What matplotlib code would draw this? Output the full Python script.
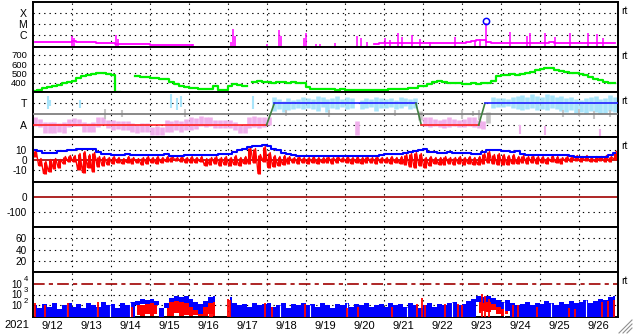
import numpy as np
import matplotlib
matplotlib.use('Agg')
import matplotlib.pyplot as plt
from matplotlib.lines import Line2D
from matplotlib.ticker import NullLocator

plt.rcParams['font.family'] = ['Liberation Sans', 'DejaVu Sans']
plt.rcParams['font.size'] = 8

nan = np.nan

day_labels = ['9/12', '9/13', '9/14', '9/15', '9/16', '9/17', '9/18', '9/19',
              '9/20', '9/21', '9/22', '9/23', '9/24', '9/25', '9/26']
year_label = '2021'

# all series: 3 hour bins, 8 per day, from 9/12 00UT to 9/27 00UT

# x-ray flux, log10 W/m2 (nan = below plot)
xray_base = [
    -6.6, -6.62, -6.6, -6.63, -6.6, -6.62, -6.6, -6.6,
    -6.58, -6.65, -6.66, -6.68, -6.66, -6.7, -6.72, -6.74,
    -6.78, -6.8, -6.82, -6.82, -6.84, -6.85, -6.86, -6.86,
    -6.9, -6.92, -6.93, -6.94, -6.94, -6.95, -6.95, -6.96,
    -6.95, nan, nan, nan, nan, nan, nan, nan,
    nan, nan, nan, nan, nan, nan, nan, nan,
    nan, nan, nan, nan, nan, nan, nan, nan,
    nan, nan, nan, nan, nan, nan, nan, nan,
    nan, nan, nan, nan, nan, nan, -6.8, -6.77,
    -6.78, -6.74, -6.77, -6.72, -6.76, -6.74, -6.72, -6.76,
    -6.74, -6.77, -6.72, -6.75, -6.78, -6.74, -6.76, -6.72,
    -6.72, -6.67, -6.52, -6.47, -6.5, -6.62, -6.72, -6.74,
    -6.77, -6.72, -6.76, -6.74, -6.77, -6.72, -6.74, -6.76,
    -6.72, -6.74, -6.62, -6.76, -6.74, -6.77, -6.72, -6.76,
    -6.77, -6.74, -6.76, -6.72, -6.78, -6.76, -6.74, -6.76]
xray_spike_day = [1.01, 1.06, 2.14, 2.19, 4.09, 5.1, 5.14, 5.19, 6.01, 6.32, 6.37,
                  6.96, 7.01, 7.27, 7.37, 7.76, 8.32, 8.42, 8.58, 9.04, 9.17, 9.37,
                  9.47, 9.73, 9.94, 10.19, 10.83, 11.35, 11.47, 11.63, 12.24, 12.68,
                  12.76, 13.14, 13.4, 13.78, 14.24, 14.47, 14.63]
xray_spike_val = [-6.09, -6.3, -6.0, -6.4, -6.85, -6.6, -5.45, -6.1, -6.82, -5.55, -6.1,
                  -6.27, -5.79, -6.82, -6.82, -6.7, -6.09, -6.27, -6.61, -6.27, -6.45, -5.79,
                  -6.15, -6.0, -6.39, -6.61, -6.21, -6.45, -6.36, -4.88, -5.7, -6.09,
                  -5.85, -5.85, -6.18, -5.79, -5.85, -5.94, -6.3]
flare_day = 11.63
flare_val = -4.75

# solar wind speed, km/s
speed = [
    310, 325, 340, 355, 365, 380, 395, 410,
    420, 450, 470, 480, 495, 505, 500, 490,
    485, 305, nan, nan, nan, 470, 462, 458,
    455, 450, 445, 435, 410, 385, 370, 350,
    345, 340, 335, 330, 328, 362, 325, 322,
    370, 385, 375, 365, nan, 405, 415, 410,
    405, 400, 410, 405, 400, 408, 402, 398,
    350, 335, 330, 328, 332, 328, 325, 330,
    326, 324, 322, 320, 322, 318, 320, 318,
    320, 328, 332, 330, 335, 338, 340, 360,
    370, 385, 410, 418, 405, 398, 395, 392,
    390, 388, 392, 390, 395, 398, 420, 470,
    480, 485, 492, 488, 495, 505, 520, 535,
    545, 560, 555, 540, 530, 520, 510, 500,
    490, 480, 465, 445, 430, 405, 400, 400]

# IMF angle spread (T = +1, A = -1)
phi_lo = [
    -1.1, -1.2, -1.7, -1.7, -1.75, -1.6, -1.7, -1.2,
    -1.05, -1.1, -1.65, -1.6, -1.65, -1.2, -0.9, -1.3,
    -1.5, -1.4, -1.5, -1.45, -1.65, -1.7, -1.6, -1.65,
    -1.95, -1.9, -1.95, -1.65, -1.6, -1.5, -1.6, -1.5,
    -1.5, -1.4, -1.1, -1.2, -1.1, -1.3, -1.3, -1.25,
    -1.3, -1.5, -1.75, -1.7, -1.3, -1.2, -1.3, -1.2,
    -1.0, 0.3, 0.5, 0.2, 0.4, 0.5, 0.6, 0.5,
    0.6, 0.5, 0.3, 0.7, 0.2, 0.6, 0.5, 0.7,
    0.5, 0.6, -1.9, 0.5, 0.6, 0.7, 0.3, 0.6,
    0.6, 0.7, 0.5, 0.6, 0.8, 0.5, 0.6, -0.5,
    -1.1, -1.2, -1.1, -1.2, -1.3, -1.2, -1.1, -1.2,
    -1.2, -1.1, -1.2, -1.3, -1.4, -0.8, 0.6, 0.7,
    0.7, 0.8, 0.6, 0.5, 0.4, 0.5, 0.6, 0.4,
    0.5, 0.4, 0.6, 0.5, 0.3, 0.2, 0.4, 0.1,
    0.2, 0.1, 0.3, 0.2, 0.0, 0.1, 0.3, 0.2]
phi_hi = [
    -0.3, -0.4, -0.7, -0.75, -0.7, -0.8, -0.7, -0.4,
    -0.35, -0.4, -0.75, -0.8, -0.75, -0.3, -0.3, -0.5,
    -0.55, -0.6, -0.6, -0.6, -0.85, -0.9, -0.85, -0.8,
    -1.2, -1.1, -1.15, -0.55, -0.6, -0.5, -0.6, -0.4,
    -0.3, -0.35, -0.2, -0.3, -0.25, -0.5, -0.55, -0.55,
    -0.5, -0.7, -1.0, -0.9, -0.3, -0.2, -0.3, -0.3,
    -0.3, 1.6, 1.4, 1.2, 1.5, 1.3, 1.4, 1.6,
    1.5, 1.4, 1.7, 1.6, 1.4, 1.5, 1.7, 1.4,
    1.6, 1.5, -0.6, 1.3, 1.5, 1.4, 1.6, 1.5,
    1.4, 1.5, 1.3, 1.6, 1.5, 1.4, 1.5, 0.3,
    -0.3, -0.3, -0.4, -0.5, -0.4, -0.3, -0.4, -0.5,
    -0.4, -0.3, -0.3, -0.5, -0.6, 0.2, 1.6, 1.5,
    1.5, 1.4, 1.6, 1.7, 1.8, 1.6, 1.9, 1.7,
    1.6, 1.9, 1.8, 1.6, 1.7, 1.5, 1.6, 1.4,
    1.3, 1.5, 1.6, 1.7, 1.4, 1.5, 1.8, 1.6]
# scattered points outside the main band: day, low, high
phi_extra_day = [0.40, 0.45, 1.22, 1.85, 2.3, 3.55, 3.7, 3.82, 3.9, 5.65, 6.5, 7.6,
                 9.3, 11.0, 11.3, 11.45, 12.5, 13.15, 13.6, 14.0, 14.4, 14.55, 14.8]
phi_extra_lo = [0.5, 0.8, 0.6, -0.4, -0.3, 0.6, 0.4, 0.7, -0.3, 0.5, -0.2, -0.3,
                -0.2, -0.4, -0.2, -0.5, -1.8, -1.9, -0.3, -0.2, -0.4, -2.0, -0.3]
phi_extra_hi = [1.7, 1.3, 1.3, 0.5, 0.4, 1.9, 1.5, 1.7, 0.5, 1.7, 0.4, 0.4,
                0.4, 0.35, 0.3, 0.4, -1.0, -1.1, 0.4, 0.45, 0.3, -1.4, 0.35]
sector_day = [0, 6.0, 6.2, 9.83, 9.97, 11.44, 11.6, 15]
sector_val = [-1, -1, 1, 1, -1, -1, 1, 1]

# IMF Bt and Bz, nT
bt = [
    10, 8.7, 6.7, 6.5, 7, 8.3, 8.5, 9.5,
    10, 10.5, 11, 11, 10.5, 8, 6, 5.5,
    5, 5, 5, 5.2, 5, 5, 5, 5,
    5, 5, 5, 5.2, 3.5, 3.3, 3.5, 4.5,
    5, 5, 5, 5, 5, 5, 5.5, 6,
    6, 8, 9.3, 11, 12.7, 14, 13.5, 14.5,
    14, 11, 9.3, 7, 6, 5, 4, 3.5,
    3.5, 3.5, 3.8, 3.5, 3.5, 3.8, 3.5, 3.5,
    3.5, 3.5, 3.8, 3.5, 4, 3.8, 3.5, 5,
    5.5, 5.5, 5.5, 5.5, 7, 8, 9, 10,
    11, 8, 7.5, 7, 7, 7.5, 7, 7,
    7, 6.5, 6, 6, 8, 10, 10, 10,
    8.5, 8.3, 8, 8.3, 5.5, 5, 5, 5,
    5, 5, 5, 5, 5, 5, 4, 3,
    2.7, 2.7, 2.7, 2.7, 2.7, 3, 5, 7]
bz_lo = [
    3, -6, -14, -12, -9, -8, -4, -2,
    -2, -10, -13, -8, -12, -7, -6, -5,
    -4, -3, -4, -3, -4, -3, -5, -4,
    -3, -4, -3, -2, -2, -1, -2, -3,
    -3, -3, -2, -6, -5, -4, -6, -5,
    -6, -5, -6, -4, -4, -3, -14, -2,
    -8, -7, -6, -5, -4, -3, -4, -3,
    -4, -3, -4, -3, -3, -4, -3, -2,
    -3, -4, -3, -4, -3, -3, -4, -3,
    -3, -4, -3, -4, -5, -7, -8, -6,
    -8, -6, -4, -5, -5, -4, -5, -4,
    -5, -4, -5, -5, -4, -3, -4, -5,
    -5, -5, -4, -4, -3, -4, -3, -4,
    -3, -4, -2, -3, -4, -2, -2, -1,
    -2, -1, -2, -2, -1, -2, -2, 0]
bz_hi = [
    9, 1, -2, 0, 1, 0, 3, 4,
    4, 6, 8, 5, 7, 3, 3, 2,
    3, 2, 1, 3, 2, 1, 2, 3,
    2, 3, 2, 3, 3, 2, 3, 2,
    3, 2, 3, 1, 2, 3, 2, 3,
    2, 4, 2, 3, 12, 11, 5, 13,
    7, 4, 3, 4, 3, 2, 3, 2,
    2, 3, 2, 2, 3, 2, 3, 2,
    3, 2, 3, 2, 3, 2, 3, 2,
    2, 3, 2, 3, 5, 6, 7, 6,
    2, 3, 2, 2, 3, 2, 2, 3,
    2, 3, 2, 3, 6, 8, 5, 6,
    5, 4, 5, 3, 4, 3, 4, 3,
    3, 2, 4, 3, 2, 3, 3, 4,
    3, 4, 2, 3, 3, 4, 3, 8]

# particle flux, log10 (blue band, red band behind, red spikes in front)
flux_exponents = ['2', '3', '4']
blue_top = [
    2.0, 1.8, 2.1, 1.9, 2.2, 1.7, 2.0, 2.2,
    1.9, 2.1, 1.8, 2.2, 2.0, 1.9, 2.3, 2.0,
    2.1, 1.8, 2.2, 2.0, 2.3, 2.4, 2.6, 2.5,
    2.6, 2.4, 1.8, 2.2, 2.7, 2.9, 2.8, 2.9,
    2.6, 2.3, 2.1, 2.4, 2.8, 2.9, nan, nan,
    2.8, 2.2, 2.0, 2.1, 1.9, 2.2, 2.0, 2.1,
    2.2, 1.9, 2.0, 2.2, 1.8, 2.1, 2.0, 2.2,
    2.0, 2.1, 1.9, 2.2, 2.0, 1.8, 2.1, 2.0,
    2.2, 1.9, 2.1, 2.0, 2.2, 1.9, 2.0, 2.1,
    1.9, 2.2, 2.0, 2.1, 1.9, 2.2, 2.0, 1.8,
    2.0, 2.2, 1.9, 2.1, 2.0, 2.2, 2.3, 2.0,
    2.1, 2.4, 2.6, 2.9, 2.8, 2.9, 2.7, 2.5,
    2.3, 2.5, 2.2, 2.0, 2.1, 2.3, 2.0, 2.2,
    2.1, 2.4, 2.2, 2.0, 2.3, 2.1, 2.4, 2.2,
    2.3, 2.5, 2.2, 2.4, 2.6, 2.5, 2.8, 2.9]
blue_bot = [
    0.9, 0.9, 0.9, 0.9, 0.9, 0.9, 0.9, 0.9,
    0.9, 0.9, 0.9, 0.9, 0.9, 0.9, 0.9, 0.9,
    0.9, 0.9, 0.9, 0.9, 0.9, 2.0, 2.1, 2.1,
    2.2, 2.0, 0.9, 1.8, 2.3, 2.4, 2.3, 2.2,
    1.9, 1.6, 1.2, 1.9, 2.2, 2.3, nan, nan,
    0.9, 0.9, 0.9, 0.9, 0.9, 0.9, 0.9, 0.9,
    0.9, 0.9, 0.9, 0.9, 0.9, 0.9, 0.9, 0.9,
    0.9, 0.9, 0.9, 0.9, 0.9, 0.9, 0.9, 0.9,
    0.9, 0.9, 0.9, 0.9, 0.9, 0.9, 0.9, 0.9,
    0.9, 0.9, 0.9, 0.9, 0.9, 0.9, 0.9, 0.9,
    0.9, 0.9, 0.9, 0.9, 0.9, 0.9, 0.9, 0.9,
    0.9, 0.9, 0.9, 2.3, 2.2, 2.3, 2.1, 1.9,
    1.7, 1.5, 0.9, 0.9, 0.9, 0.9, 0.9, 0.9,
    0.9, 0.9, 0.9, 0.9, 0.9, 0.9, 0.9, 0.9,
    0.9, 0.9, 0.9, 0.9, 0.9, 0.9, 0.9, 0.9]
red_lo = [nan] * 120
red_hi = [nan] * 120
red_lo[21:24] = [1.1, 0.9, 1.2]
red_hi[21:24] = [2.0, 2.05, 2.1]
red_lo[24:38] = [1.0, 1.2, nan, 1.0, 0.9, 1.3, 1.0, 1.1, 0.9, 1.1, 0.9, 1.0, 1.2, 0.9]
red_hi[24:38] = [2.2, 2.0, nan, 1.8, 2.3, 2.4, 2.3, 2.2, 1.9, 1.6, 1.2, 1.9, 2.2, 2.3]
red_lo[91:98] = [1.3, 1.5, 1.4, 1.6, 1.2, 1.0, 1.2]
red_hi[91:98] = [2.3, 2.6, 2.4, 2.1, 1.9, 1.7, 1.5]
red_spike_day = [0.06, 0.32, 0.91, 1.68, 2.55, 4.55, 4.6, 5.0, 5.06, 5.96, 6.14, 6.99,
                 8.06, 8.35, 9.22, 9.86, 9.99, 10.06, 10.58, 10.91, 11.01, 11.53,
                 11.6, 11.7, 12.32, 12.45, 12.94, 13.75, 13.9, 14.6, 14.75, 14.9]
red_spike_top = [2.2, 2.0, 2.2, 2.3, 1.9, 1.8, 1.6, 2.6, 2.5, 2.2, 1.9, 2.1,
                 1.75, 1.9, 1.9, 2.1, 2.66, 2.0, 2.1, 2.1, 2.0, 3.05,
                 2.9, 2.6, 2.0, 2.0, 1.9, 1.8, 1.7, 2.3, 2.4, 2.5]
blue_gap_day = [0.88, 1.65, 1.99, 2.5, 6.35, 7.12, 8.06, 9.6, 10.76, 12.1, 13.3, 14.2]

t = (np.arange(120) + 0.5) / 8.0

W, H = 633, 334
fig = plt.figure(figsize=(W / 100, H / 100), dpi=100)
DOT = (0, (1.2, 3.6))


def panel(i, ylim, ticks, labels, grid_y, log=False, fs=7.2, pad=4):
    top = 2 + 45 * i
    ax = fig.add_axes([32.5 / W, 1 - (top + 45) / H, 585 / W, 45 / H])
    if log:
        ax.set_yscale('log')
    ax.set_xlim(0, 15)
    ax.set_ylim(*ylim)
    ax.set_xticks(np.arange(1, 15))
    ax.set_yticks(ticks)
    ax.set_yticklabels(labels, fontsize=fs)
    ax.yaxis.set_minor_locator(NullLocator())
    ax.xaxis.set_minor_locator(NullLocator())
    ax.tick_params(length=0, pad=pad, labelbottom=False)
    for s in ax.spines.values():
        s.set_linewidth(1.4)
    ax.grid(True, axis='x', color='black', linestyle=DOT, linewidth=0.8)
    for g in grid_y:
        ax.axhline(g, color='black', linestyle=DOT, linewidth=0.8, zorder=0.5)
    ax.set_axisbelow(True)
    return ax


# x-ray
ax1 = panel(0, (10 ** -7.1, 1e-3), [1e-6, 1e-5, 1e-4], ['C', 'M', 'X'],
            [1e-6, 1e-5, 1e-4], log=True, fs=7.6)
ax1.plot(t, 10 ** np.array(xray_base), drawstyle='steps-mid', color='#ff00ff', lw=1.3)
ax1.vlines(xray_spike_day, 10 ** -7.1, 10 ** np.array(xray_spike_val), color='#ff00ff', lw=1.1)
ax1.plot(flare_day, 10 ** flare_val, 'o', mfc='none', mec='#0000ff', ms=4.5, mew=1.1)

# solar wind speed
ax2 = panel(1, (300, 785), [400, 500, 600, 700], ['400', '500', '600', '700'],
            [400, 500, 600, 700], fs=6.8)
ax2.plot(t, speed, drawstyle='steps-mid', color='#00f000', lw=1.6)

# IMF angle / sector
ax3 = panel(2, (-2.1, 2.05), [-1, 1], ['A', 'T'], [-1, 1], fs=7.6)
ax3.axhline(0, color='#808080', lw=1.3, zorder=3)


def phi_color(v):
    if v > 0.4:
        return '#a8e4fa'
    if v < -0.4:
        return '#f0b0ec'
    return '#c4c4c4'


lo = np.array(phi_lo)
hi = np.array(phi_hi)
ax3.vlines(t, lo, hi, colors=[phi_color(v) for v in (lo + hi) / 2], lw=3.3, zorder=2)
elo = np.array(phi_extra_lo)
ehi = np.array(phi_extra_hi)
ax3.vlines(phi_extra_day, elo, ehi, colors=[phi_color(v) for v in (elo + ehi) / 2],
           lw=1.5, zorder=2)
for k in range(len(sector_day) - 1):
    a, b = sector_val[k], sector_val[k + 1]
    c = '#ff2020' if a == b == -1 else ('#2020ff' if a == b == 1 else '#408040')
    ax3.plot(sector_day[k:k + 2], sector_val[k:k + 2], color=c, lw=1.2, zorder=4)

# IMF Bt / Bz
ax4 = panel(3, (-22.5, 22.5), [-10, 0, 10], ['-10', '0', '10'], [-10, 10])
ax4.axhline(0, color='#a00000', lw=1.2, zorder=1)
zt = np.column_stack([t - 0.03, t + 0.03]).ravel()
zv = np.column_stack([bz_lo, bz_hi]).ravel()
ax4.vlines(t, bz_lo, bz_hi, color='#ff0000', lw=2.2, zorder=2)
ax4.plot(zt, zv, color='#ff0000', lw=1.0, zorder=2)
ax4.plot(t, bt, drawstyle='steps-mid', color='#0000ff', lw=1.5, zorder=3)

# Dst
ax5 = panel(4, (-200, 102), [-100, 0], ['-100', '0'], [-100])
ax5.axhline(0, color='#a00000', lw=1.2)

# third index panel (no data)
ax6 = panel(5, (0, 80), [20, 40, 60], ['20', '40', '60'], [20, 40, 60])

# particle flux
ax7 = panel(6, (10 ** 0.95, 10 ** 5.05), [1e2, 1e3, 1e4], ['10', '10', '10'],
            [1e2, 1e3], log=True, fs=7.0, pad=7.5)
for v, e in zip([1e2, 1e3, 1e4], flux_exponents):
    ax7.annotate(e, xy=(0, v), xycoords=('axes fraction', 'data'), xytext=(-6.5, 3.2),
                 textcoords='offset points', ha='left', va='center', fontsize=5.6)
ax7.axhline(1e4, color='#a00000', lw=1.2, dashes=(7, 2.5, 2.5, 2.5))
ax7.fill_between(t, 10 ** np.array(red_lo), 10 ** np.array(red_hi), step='mid',
                 color='#ff0000', lw=0, zorder=2)
ax7.fill_between(t, 10 ** np.array(blue_bot), 10 ** np.array(blue_top), step='mid',
                 color='#0000ff', lw=0, zorder=3)
gap_top = [10 ** blue_top[int(d * 8)] for d in blue_gap_day]
ax7.vlines(blue_gap_day, 10 ** 0.95, gap_top, color='white', lw=0.8, zorder=4)
ax7.vlines(red_spike_day, 10 ** 0.95, 10 ** np.array(red_spike_top), color='#ff0000',
           lw=1.3, zorder=5)
ax7.set_xticks(np.arange(15) + 0.5, minor=True)
ax7.set_xticklabels(day_labels, minor=True, fontsize=8)
ax7.tick_params(which='minor', length=0, pad=3, labelbottom=True)

fig.text(4 / W, 1 - 325 / H, year_label, ha='left', va='center', fontsize=8)
for y in [11, 56, 101, 146, 281]:
    fig.text(621 / W, 1 - y / H, 'rt', ha='left', va='center', fontsize=7.5)

# resize grip
for k in range(3):
    off = 4 * k
    fig.add_artist(Line2D([(619 + off) / W, 632 / W], [1 - 333 / H, 1 - (320 + off) / H],
                          color='#909090', lw=0.8))

fig.savefig('out.png', dpi=100)
